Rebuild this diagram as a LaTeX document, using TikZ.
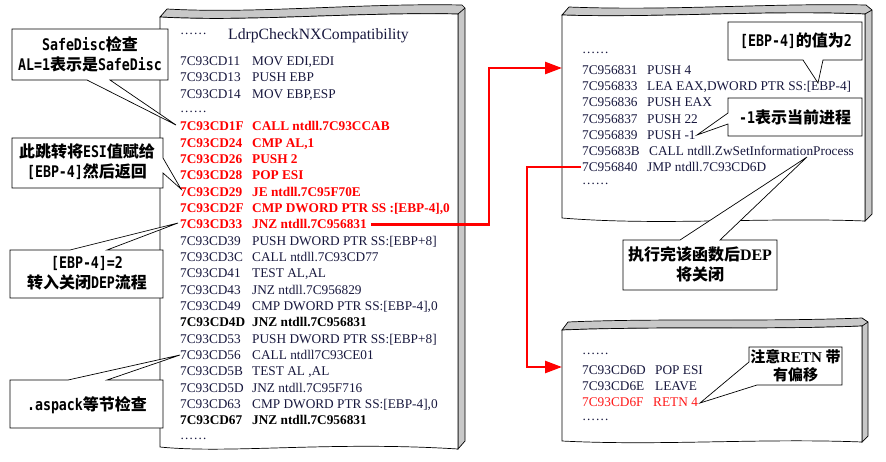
\documentclass[tikz,border=0pt]{standalone}
\usepackage{fontspec}
\setmainfont{Liberation Serif}
\newfontfamily\zhfont{Noto Sans CJK SC}
\newfontfamily\mnfont{DejaVu Sans Mono}[FakeStretch=0.83]
\usetikzlibrary{arrows.meta}
\definecolor{codeblue}{HTML}{18183E}
\definecolor{panelgray}{HTML}{C8C8C8}
\newcommand\zhtxt[1]{{\zhfont\bfseries #1}}
\newcommand\mntxt[1]{{\mnfont\bfseries #1}}
\newcommand\cl[5]{\node[#5] (a#1) at (180,#2) {#3}; \node[#5] (i#1) at (252,#2) {#4};}
\newcommand\plA[4]{\node[code] (b#1) at (582,#2) {#3}; \node[code] (c#1) at (647,#2) {#4};}
\begin{document}
\begin{tikzpicture}[x=1pt,y=-1pt,
  code/.style={anchor=base west, inner sep=0pt, font=\fontsize{13.3}{16}\selectfont, text=codeblue},
  redcode/.style={code, text=red, font=\fontsize{13.3}{16}\selectfont\bfseries},
  blackbold/.style={code, text=black, font=\fontsize{13.3}{16}\selectfont\bfseries},
  panelface/.style={draw=black, line width=0.7pt, fill=white},
  panelbevel/.style={draw=black, line width=0.7pt, fill=panelgray},
  callout/.style={draw=black, line width=0.7pt, fill=white, line join=miter},
  callouttext/.style={align=center, inner sep=0pt, font=\fontsize{16}{20}\selectfont},
  jump/.style={draw=red, line width=2.5pt, line join=miter, -{Triangle[length=17pt,width=12pt]}}]
\useasboundingbox (0,0) rectangle (886,461);

% ---------- main panel ----------
\draw[panelbevel] (160,17) -- (167,9) .. controls (257,14) and (357,3) .. (462,5) -- (465,8) -- (465,441) -- (458,449) -- (458,14) .. controls (350,12) and (250,22) .. (160,17) -- cycle;
\draw[panelface] (160,17) .. controls (250,22) and (350,12) .. (458,14) -- (458,449) .. controls (330,441) and (230,454) .. (160,447) -- cycle;
\draw[line width=0.7pt] (458,14) -- (465,8);

% ---------- panel 1 ----------
\draw[panelbevel] (562,15) -- (569,7) .. controls (670,11) and (770,3) .. (866,5) -- (872,10) -- (872,214) -- (865,221) -- (865,14) .. controls (760,10) and (660,18) .. (562,15) -- cycle;
\draw[panelface] (562,15) .. controls (660,18) and (760,10) .. (865,14) -- (865,221) .. controls (760,217) and (660,226) .. (562,218) -- cycle;
\draw[line width=0.7pt] (865,14) -- (872,10);

% ---------- panel 2 ----------
\draw[panelbevel] (562,330) -- (568,322) .. controls (660,318) and (760,322) .. (862,318) -- (868,322) -- (868,436) -- (862,442) -- (862,326) .. controls (760,330) and (660,326) .. (562,330) -- cycle;
\draw[panelface] (562,330) .. controls (660,326) and (760,330) .. (862,326) -- (862,442) .. controls (760,438) and (660,446) .. (562,441) -- cycle;
\draw[line width=0.7pt] (862,326) -- (868,322);

% ---------- main panel text ----------
\node[code] (tdots) at (180,34) {……};
\node[code, font=\fontsize{15.7}{18}\selectfont] (title) at (228,39) {LdrpCheckNXCompatibility};
\cl{0}{65.6}{7C93CD11}{MOV EDI,EDI}{code}
\cl{1}{81.9}{7C93CD13}{PUSH EBP}{code}
\cl{2}{98.2}{7C93CD14}{MOV EBP,ESP}{code}
\node[code] (mdots1) at (180,112) {……};
\cl{4}{130.9}{7C93CD1F}{CALL ntdll.7C93CCAB}{redcode}
\cl{5}{147.2}{7C93CD24}{CMP AL,1}{redcode}
\cl{6}{163.5}{7C93CD26}{PUSH 2}{redcode}
\cl{7}{179.8}{7C93CD28}{POP ESI}{redcode}
\cl{8}{196.2}{7C93CD29}{JE ntdll.7C95F70E}{redcode}
\cl{9}{212.5}{7C93CD2F}{CMP DWORD PTR SS :[EBP-4],0}{redcode}
\cl{10}{228.8}{7C93CD33}{JNZ ntdll.7C956831}{redcode}
\cl{11}{245.1}{7C93CD39}{PUSH DWORD PTR SS:[EBP+8]}{code}
\cl{12}{261.4}{7C93CD3C}{CALL ntdll.7C93CD77}{code}
\cl{13}{277.8}{7C93CD41}{TEST AL,AL}{code}
\cl{14}{294.1}{7C93CD43}{JNZ ntdll.7C956829}{code}
\cl{15}{310.4}{7C93CD49}{CMP DWORD PTR SS:[EBP-4],0}{code}
\cl{16}{326.7}{7C93CD4D}{JNZ ntdll.7C956831}{blackbold}
\cl{17}{343.0}{7C93CD53}{PUSH DWORD PTR SS:[EBP+8]}{code}
\cl{18}{359.4}{7C93CD56}{CALL ntdll7C93CE01}{code}
\cl{19}{375.7}{7C93CD5B}{TEST AL ,AL}{code}
\cl{20}{392.0}{7C93CD5D}{JNZ ntdll.7C95F716}{code}
\cl{21}{408.3}{7C93CD63}{CMP DWORD PTR SS:[EBP-4],0}{code}
\cl{22}{424.6}{7C93CD67}{JNZ ntdll.7C956831}{blackbold}
\node[code] (mdots2) at (180,439) {……};

% ---------- panel 1 text ----------
\node[code] (pdots1) at (582,53) {……};
\plA{31}{74.6}{7C956831}{PUSH 4}
\plA{33}{90.75}{7C956833}{LEA EAX,DWORD PTR SS:[EBP-4]}
\plA{36}{106.9}{7C956836}{PUSH EAX}
\plA{37}{123.05}{7C956837}{PUSH 22}
\plA{39}{139.2}{7C956839}{PUSH -1}
\node[code] (b3B) at (582,155.35) {7C95683B};
\node[code] (c3B) at (649,155.35) {CALL ntdll.ZwSetInformationProcess};
\plA{40}{171.5}{7C956840}{JMP ntdll.7C93CD6D}
\node[code] (pdots2) at (582,184.5) {……};

% ---------- panel 2 text ----------
\node[code] (qdots1) at (582,354) {……};
\node[code] (d6D) at (582,374.6) {7C93CD6D};
\node[code] (e6D) at (655,374.6) {POP ESI};
\node[code] (d6E) at (582,390.6) {7C93CD6E};
\node[code] (e6E) at (655,390.6) {LEAVE};
\node[code, text=red!90!white] (d6F) at (582,406.6) {7C93CD6F};
\node[code, text=red!90!white] (e6F) at (653,406.6) {RETN 4};
\node[code] (qdots2) at (582,420) {……};

% ---------- jumps ----------
\coordinate (elbow1) at (489,68);
\coordinate (entry1) at (562,68);
\coordinate (elbow2) at (527,367);
\coordinate (entry2) at (562,367);
\draw[jump] ([xshift=4pt]i10.east) -| (elbow1) -- (entry1);
\draw[jump] ([xshift=-1pt]b40.west) -| (elbow2) -- (entry2);

% ---------- callouts ----------
\coordinate (t1) at (176,125);
\coordinate (t2) at (181,189);
\coordinate (t3) at (178,223);
\coordinate (t4) at (180,355);
\coordinate (t5) at (818,83);
\coordinate (t6) at (697,135);
\coordinate (t7) at (807,157);
\coordinate (t8) at (700,403);

\draw[callout] (12,29) -- (168,29) -- (168,80) -- (110,80) -- (t1) -- (87,80) -- (12,80) -- cycle;
\node[callouttext] (k1) at (90,54) {\mntxt{SafeDisc}\zhtxt{检查}\\\mntxt{AL=1}\zhtxt{表示是}\mntxt{SafeDisc}};

\draw[callout] (12,138) -- (163,138) -- (163,158) -- (t2) -- (163,173) -- (163,188) -- (12,188) -- cycle;
\node[callouttext] (k2) at (87,162) {\zhtxt{此跳转将}\mntxt{ESI}\zhtxt{值赋给}\\\mntxt{[EBP-4]}\zhtxt{然后返回}};

\draw[callout] (10,250) -- (70,250) -- (t3) -- (107,250) -- (163,250) -- (163,298) -- (10,298) -- cycle;
\node[callouttext] (k3) at (87,273) {\mntxt{[EBP-4]=2}\\\zhtxt{转入关闭}\mntxt{DEP}\zhtxt{流程}};

\draw[callout] (10,380) -- (68,380) -- (t4) -- (107,380) -- (163,380) -- (163,428) -- (10,428) -- cycle;
\node[callouttext] (k4) at (87,405) {\mntxt{.aspack}\zhtxt{等节检查}};

\draw[callout] (728,22) -- (862,22) -- (862,60) -- (823,60) -- (t5) -- (803,60) -- (728,60) -- cycle;
\node[callouttext] (k5) at (796,41) {\mntxt{[EBP-4]}\zhtxt{的值为}\mntxt{2}};

\draw[callout] (728,98) -- (862,98) -- (862,136) -- (728,136) -- (728,124) -- (t6) -- (728,113) -- cycle;
\node[callouttext] (k6) at (795,117) {\mntxt{-1}\zhtxt{表示当前进程}};

\draw[callout] (623,240) -- (680,240) -- (t7) -- (720,240) -- (777,240) -- (777,290) -- (623,290) -- cycle;
\node[callouttext] (k7) at (700,264) {\zhtxt{执行完该函数后}{\bfseries DEP}\\\zhtxt{将关闭}};

\draw[callout] (749,347) -- (842,347) -- (842,385) -- (757,385) -- (t8) -- (749,362) -- cycle;
\node[callouttext, font=\fontsize{15}{18}\selectfont] (k8) at (795.5,366) {\zhtxt{注意}{\bfseries RETN} \zhtxt{带}\\\zhtxt{有偏移}};
\end{tikzpicture}
\end{document}
